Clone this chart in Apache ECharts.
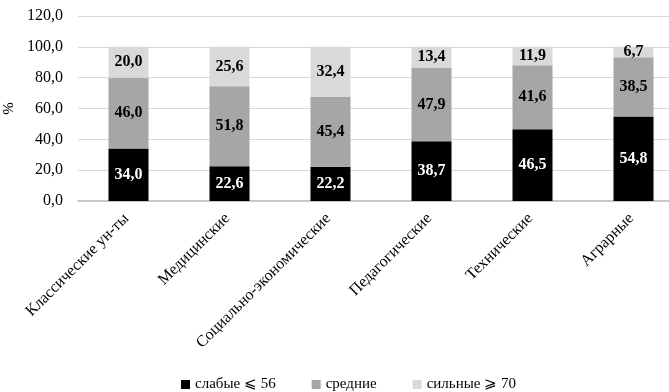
<!DOCTYPE html>
<html>
<head>
<meta charset="utf-8">
<script src="https://cdn.jsdelivr.net/npm/echarts@6/dist/echarts.min.js"></script>
<style>
  html, body { margin: 0; padding: 0; background: #fff; overflow: hidden; }
  #chart { width: 700px; height: 392px; }
</style>
</head>
<body>
<div id="chart"></div>
<script>
// Categories of universities
const categories = ['Классические ун-ты', 'Медицинские', 'Социально-экономические', 'Педагогические', 'Технические', 'Аграрные'];
// Shares of students by score group, %
const weak = [34.0, 22.6, 22.2, 38.7, 46.5, 54.8];
const medium = [46.0, 51.8, 45.4, 47.9, 41.6, 38.5];
const strong = [20.0, 25.6, 32.4, 13.4, 11.9, 6.7];
const seriesNames = ['слабые ⩽ 56', 'средние', 'сильные ⩾ 70'];
const yTicks = { min: 0, max: 120, interval: 20 };

const FONT = '"Liberation Serif", "DejaVu Serif", serif';
const fmt = v => v.toFixed(1).replace('.', ',');

function stackSeries(name, data, color, labelColor) {
  return {
    name: name,
    type: 'bar',
    stack: 'total',
    data: data,
    barWidth: 40,
    itemStyle: { color: color },
    label: {
      show: true,
      position: 'inside',
      color: labelColor,
      fontFamily: FONT,
      fontWeight: 'bold',
      fontSize: 16,
      formatter: p => fmt(p.value)
    }
  };
}

const chart = echarts.init(document.getElementById('chart'));
chart.setOption({
  animation: false,
  backgroundColor: '#ffffff',
  textStyle: { fontFamily: FONT },
  grid: { left: 78, width: 606, top: 16, height: 185, containLabel: false, outerBoundsMode: 'none' },
  legend: {
    top: 372,
    left: 176,
    itemWidth: 9,
    itemHeight: 9,
    itemGap: 36,
    icon: 'rect',
    textStyle: { fontFamily: FONT, fontSize: 15, color: '#000' },
    data: seriesNames
  },
  xAxis: {
    type: 'category',
    data: categories,
    axisTick: { show: false },
    axisLine: { lineStyle: { color: '#C8C8C8', width: 2 } },
    axisLabel: {
      rotate: 45,
      interval: 0,
      margin: 13,
      padding: [0, 3, 0, 0],
      color: '#000',
      fontFamily: FONT,
      fontSize: 16
    }
  },
  yAxis: {
    type: 'value',
    min: yTicks.min,
    max: yTicks.max,
    interval: yTicks.interval,
    name: '%',
    nameLocation: 'middle',
    nameGap: 55,
    nameTextStyle: { fontFamily: FONT, fontSize: 15, color: '#000' },
    axisLine: { show: false },
    axisTick: { show: false },
    splitLine: { lineStyle: { color: '#D9D9D9', width: 1 } },
    axisLabel: {
      margin: 15,
      color: '#000',
      fontFamily: FONT,
      fontSize: 16,
      formatter: v => fmt(v)
    }
  },
  series: [
    stackSeries(seriesNames[0], weak, '#000000', '#ffffff'),
    stackSeries(seriesNames[1], medium, '#A6A6A6', '#000000'),
    stackSeries(seriesNames[2], strong, '#D9D9D9', '#000000')
  ]
});
</script>
</body>
</html>
